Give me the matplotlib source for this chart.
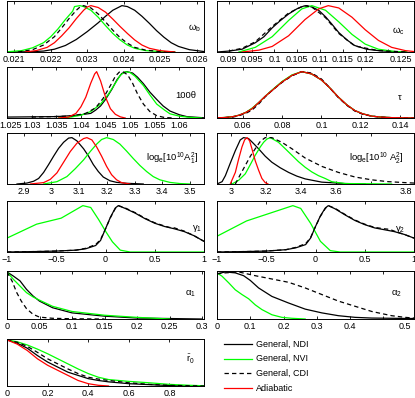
import numpy as np
import matplotlib
matplotlib.use("Agg")
import matplotlib.pyplot as plt
import matplotlib.transforms as mtransforms

plt.rcParams['font.family'] = ['Liberation Sans', 'DejaVu Sans']
plt.rcParams['mathtext.default'] = 'regular'

GREEN = '#00ff00'
RED = '#ff0000'

# ---------------- omega_b ----------------
wb_ndi_x = [0.0208, 0.0214, 0.0218, 0.0221, 0.0224, 0.0227, 0.0230, 0.0233, 0.0235, 0.0237, 0.0239,
            0.02395, 0.0241, 0.0243, 0.0245, 0.0247, 0.0249, 0.0251, 0.0253, 0.0255, 0.0258, 0.0262]
wb_ndi_y = [0.0, 0.005, 0.02, 0.06, 0.14, 0.27, 0.44, 0.63, 0.77, 0.9, 0.98,
            1.0, 0.98, 0.9, 0.77, 0.62, 0.46, 0.32, 0.2, 0.12, 0.05, 0.01]
wb_nvi_x = [0.0208, 0.0212, 0.0215, 0.0218, 0.0220, 0.0222, 0.0224, 0.0226, 0.02265, 0.0228, 0.0229,
            0.0231, 0.0233, 0.0235, 0.0237, 0.0239, 0.0241, 0.0243, 0.0246, 0.0250, 0.0254]
wb_nvi_y = [0.005, 0.03, 0.09, 0.2, 0.33, 0.5, 0.7, 0.88, 0.98, 1.0, 0.98,
            0.9, 0.75, 0.57, 0.4, 0.26, 0.15, 0.08, 0.03, 0.01, 0.0]
wb_cdi_x = [0.0211, 0.0215, 0.0218, 0.0221, 0.0223, 0.0225, 0.0227, 0.0228, 0.0229, 0.0231, 0.0233,
            0.0235, 0.0237, 0.0239, 0.0241, 0.0243, 0.0246, 0.0250, 0.0254]
wb_cdi_y = [0.0, 0.05, 0.15, 0.33, 0.52, 0.72, 0.9, 0.97, 1.0, 0.95, 0.82,
            0.65, 0.47, 0.31, 0.19, 0.1, 0.04, 0.01, 0.0]
wb_ad_x = [0.0213, 0.0216, 0.0219, 0.0221, 0.0223, 0.0225, 0.0227, 0.0229, 0.0230, 0.0231, 0.0233,
           0.0235, 0.0237, 0.0239, 0.0241, 0.0243, 0.0245, 0.0247, 0.0250, 0.0254]
wb_ad_y = [0.0, 0.03, 0.1, 0.2, 0.35, 0.52, 0.72, 0.9, 0.97, 1.0, 0.96,
           0.86, 0.71, 0.55, 0.4, 0.26, 0.15, 0.08, 0.03, 0.0]

# ---------------- omega_c ----------------
wc_ndi_x = [0.0874, 0.0900, 0.0929, 0.0958, 0.0977, 0.0995, 0.1012, 0.1031, 0.1049, 0.1064, 0.1071,
            0.1082, 0.1097, 0.1112, 0.1126, 0.1141, 0.1159, 0.1176, 0.1202, 0.1228, 0.1257, 0.1290]
wc_ndi_y = [0.0, 0.02, 0.06, 0.2, 0.33, 0.52, 0.67, 0.82, 0.93, 0.99, 1.0,
            0.97, 0.9, 0.76, 0.6, 0.42, 0.26, 0.14, 0.06, 0.03, 0.01, 0.0]
wc_nvi_x = [0.0922, 0.0958, 0.0995, 0.1031, 0.1060, 0.1082, 0.1112, 0.1141, 0.1170, 0.1199, 0.1228,
            0.1265, 0.1290]
wc_nvi_y = [0.0, 0.1, 0.33, 0.68, 0.93, 1.0, 0.9, 0.65, 0.38, 0.17, 0.06, 0.01, 0.0]
wc_cdi_x = [0.0900, 0.0929, 0.0958, 0.0995, 0.1031, 0.1064, 0.1082, 0.1112, 0.1141, 0.1176, 0.1228,
            0.1290]
wc_cdi_y = [0.02, 0.08, 0.22, 0.55, 0.84, 1.0, 0.97, 0.74, 0.4, 0.13, 0.03, 0.0]
wc_ad_x = [0.0929, 0.0966, 0.0995, 0.1031, 0.1067, 0.1097, 0.1118, 0.1141, 0.1170, 0.1199, 0.1228,
           0.1257, 0.1287, 0.1306]
wc_ad_y = [0.0, 0.04, 0.12, 0.35, 0.7, 0.93, 1.0, 0.95, 0.75, 0.48, 0.25, 0.1, 0.03, 0.01]

# ---------------- 100 theta ----------------
th_ndi_x = [1.025, 1.030, 1.035, 1.038, 1.040, 1.042, 1.043, 1.044, 1.045, 1.0463, 1.0473, 1.0483,
            1.0493, 1.0505, 1.0515, 1.0527, 1.0540, 1.0554, 1.0567, 1.0581, 1.0600, 1.0615, 1.0649]
th_ndi_y = [0.02, 0.025, 0.03, 0.05, 0.07, 0.1, 0.17, 0.26, 0.4, 0.62, 0.82, 0.96,
            1.0, 0.97, 0.88, 0.74, 0.56, 0.4, 0.26, 0.15, 0.07, 0.03, 0.005]
th_nvi_x = [1.0355, 1.038, 1.040, 1.042, 1.044, 1.0455, 1.047, 1.048, 1.049, 1.050, 1.051, 1.0527,
            1.054, 1.0554, 1.057, 1.0581, 1.060, 1.062, 1.0645]
th_nvi_y = [0.0, 0.02, 0.06, 0.14, 0.3, 0.5, 0.75, 0.92, 1.0, 0.98, 0.9, 0.7,
            0.5, 0.3, 0.17, 0.09, 0.04, 0.015, 0.0]
th_cdi_x = [1.030, 1.038, 1.041, 1.043, 1.0445, 1.046, 1.047, 1.0478, 1.0485, 1.0495, 1.0505, 1.0515,
            1.0527, 1.054, 1.0554, 1.057, 1.059]
th_cdi_y = [0.02, 0.04, 0.1, 0.22, 0.42, 0.7, 0.9, 0.99, 1.0, 0.93, 0.75, 0.52,
            0.3, 0.14, 0.05, 0.01, 0.0]
th_ad_x = [1.0355, 1.0375, 1.039, 1.040, 1.041, 1.042, 1.0428, 1.0432, 1.044, 1.045, 1.046, 1.047,
           1.048, 1.049]
th_ad_y = [0.0, 0.02, 0.1, 0.24, 0.45, 0.75, 0.95, 1.0, 0.8, 0.45, 0.2, 0.08, 0.025, 0.0]

# ---------------- tau ----------------
tau_x = [0.0468, 0.051, 0.055, 0.058, 0.0615, 0.0646, 0.068, 0.0714, 0.075, 0.080, 0.085, 0.090,
         0.095, 0.100, 0.104, 0.1086, 0.113, 0.117, 0.121, 0.1256, 0.130, 0.1358, 0.1471]
tau_ndi_y = [0.003, 0.01, 0.03, 0.06, 0.12, 0.2, 0.33, 0.47, 0.6, 0.78, 0.92, 1.0,
             0.95, 0.82, 0.66, 0.45, 0.28, 0.16, 0.09, 0.04, 0.02, 0.008, 0.0]
tau_nvi_y = [0.004, 0.012, 0.03, 0.06, 0.12, 0.21, 0.33, 0.47, 0.61, 0.79, 0.93, 1.0,
             0.95, 0.82, 0.66, 0.45, 0.28, 0.16, 0.09, 0.04, 0.02, 0.008, 0.0]
tau_cdi_y = [0.003, 0.01, 0.02, 0.05, 0.1, 0.17, 0.3, 0.46, 0.6, 0.77, 0.91, 1.0,
             0.97, 0.84, 0.66, 0.44, 0.27, 0.15, 0.08, 0.04, 0.02, 0.006, 0.0]
tau_ad_y = [0.004, 0.011, 0.03, 0.06, 0.12, 0.2, 0.33, 0.47, 0.6, 0.78, 0.92, 1.0,
            0.95, 0.82, 0.66, 0.45, 0.28, 0.16, 0.09, 0.04, 0.02, 0.008, 0.001]

# ---------------- log A1 ----------------
a1_ndi_x = [2.876, 2.912, 2.936, 2.954, 2.972, 2.990, 3.008, 3.026, 3.044, 3.062, 3.074, 3.092,
            3.116, 3.134, 3.151, 3.169, 3.187, 3.211, 3.235, 3.271, 3.331]
a1_ndi_y = [0.0, 0.02, 0.06, 0.12, 0.25, 0.42, 0.6, 0.77, 0.9, 0.99, 1.0, 0.93,
            0.76, 0.6, 0.42, 0.27, 0.15, 0.07, 0.035, 0.015, 0.0]
a1_nvi_x = [2.972, 3.020, 3.056, 3.086, 3.116, 3.140, 3.163, 3.181, 3.199, 3.223, 3.247, 3.271,
            3.295, 3.319, 3.343, 3.367, 3.391, 3.427, 3.463, 3.499]
a1_nvi_y = [0.0, 0.05, 0.16, 0.33, 0.52, 0.7, 0.86, 0.96, 1.0, 0.96, 0.86, 0.71,
            0.55, 0.4, 0.27, 0.16, 0.09, 0.035, 0.01, 0.0]
a1_ad_x = [2.924, 2.972, 2.996, 3.020, 3.044, 3.068, 3.092, 3.116, 3.128, 3.146, 3.163, 3.181,
           3.199, 3.217, 3.235, 3.253, 3.283]
a1_ad_y = [0.0, 0.03, 0.1, 0.24, 0.47, 0.7, 0.88, 0.98, 1.0, 0.95, 0.8, 0.6,
           0.38, 0.2, 0.09, 0.03, 0.0]

# ---------------- log A2 ----------------
a2_ndi_x = [2.918, 2.947, 2.966, 2.994, 3.023, 3.051, 3.070, 3.099, 3.128, 3.156, 3.194, 3.232,
            3.280, 3.328, 3.375, 3.423, 3.518, 3.651, 3.766]
a2_ndi_y = [0.0, 0.05, 0.18, 0.45, 0.72, 0.95, 1.0, 0.98, 0.87, 0.76, 0.6, 0.47,
            0.35, 0.25, 0.17, 0.11, 0.04, 0.01, 0.0]
a2_nvi_x = [3.004, 3.042, 3.080, 3.109, 3.137, 3.166, 3.185, 3.204, 3.223, 3.270, 3.309, 3.347,
            3.385, 3.423, 3.461, 3.499, 3.537, 3.575, 3.651, 3.918]
a2_nvi_y = [0.0, 0.08, 0.22, 0.42, 0.62, 0.8, 0.9, 0.97, 1.0, 0.9, 0.76, 0.62,
            0.48, 0.36, 0.26, 0.18, 0.12, 0.05, 0.01, 0.0]
a2_cdi_x = [3.023, 3.051, 3.080, 3.109, 3.137, 3.166, 3.194, 3.232, 3.289, 3.347, 3.423, 3.518,
            3.613, 3.709, 3.804, 3.899, 3.994, 4.046]
a2_cdi_y = [0.0, 0.2, 0.4, 0.6, 0.76, 0.92, 1.0, 1.0, 0.9, 0.76, 0.56, 0.38,
            0.25, 0.15, 0.09, 0.05, 0.03, 0.02]
a2_ad_x = [2.994, 3.023, 3.042, 3.061, 3.076, 3.090, 3.105, 3.118, 3.137, 3.156, 3.175, 3.194, 3.210]
a2_ad_y = [0.0, 0.25, 0.54, 0.8, 0.95, 1.0, 0.93, 0.76, 0.5, 0.3, 0.12, 0.03, 0.0]

# ---------------- gamma1 ----------------
g1_ndi_x = [-1.0, -0.7, -0.5, -0.3, -0.2, -0.1, -0.05, 0.0, 0.05, 0.1, 0.13, 0.2,
            0.3, 0.4, 0.5, 0.6, 0.7, 0.8, 0.9, 1.0]
g1_ndi_y = [0.0, 0.01, 0.02, 0.04, 0.07, 0.14, 0.25, 0.5, 0.75, 0.95, 1.0, 0.94,
            0.84, 0.72, 0.62, 0.55, 0.5, 0.44, 0.35, 0.23]
g1_cdi_x = [-1.0, -0.7, -0.5, -0.3, -0.2, -0.1, -0.05, 0.0, 0.05, 0.1, 0.13, 0.2,
            0.3, 0.4, 0.5, 0.6, 0.65, 0.7, 0.8, 0.9, 1.0]
g1_cdi_y = [0.0, 0.01, 0.02, 0.04, 0.08, 0.16, 0.27, 0.5, 0.74, 0.94, 1.0, 0.95,
            0.85, 0.73, 0.63, 0.56, 0.53, 0.52, 0.45, 0.35, 0.23]
g1_nvi_x = [-1.0, -0.7, -0.45, -0.23, -0.15, -0.07, 0.0, 0.07, 0.15, 0.25, 1.0]
g1_nvi_y = [0.3, 0.6, 0.73, 1.0, 0.96, 0.7, 0.45, 0.22, 0.04, 0.0, 0.0]

# ---------------- gamma2 ----------------
g2_ndi_x = [-1.0, -0.7, -0.5, -0.3, -0.2, -0.1, -0.05, 0.0, 0.05, 0.1, 0.13, 0.2,
            0.3, 0.4, 0.5, 0.6, 0.7, 0.8, 0.9, 1.0]
g2_ndi_y = [0.0, 0.01, 0.02, 0.05, 0.09, 0.16, 0.3, 0.55, 0.78, 0.95, 1.0, 0.93,
            0.8, 0.68, 0.59, 0.52, 0.48, 0.44, 0.38, 0.3]
g2_cdi_x = [-1.0, -0.7, -0.5, -0.3, -0.2, -0.1, -0.05, 0.0, 0.05, 0.1, 0.13, 0.2,
            0.3, 0.4, 0.5, 0.6, 0.7, 0.75, 0.8, 0.9, 1.0]
g2_cdi_y = [0.0, 0.01, 0.02, 0.05, 0.1, 0.18, 0.31, 0.55, 0.77, 0.94, 1.0, 0.94,
            0.81, 0.69, 0.6, 0.53, 0.5, 0.49, 0.45, 0.38, 0.3]
g2_nvi_x = [-1.0, -0.7, -0.23, -0.15, -0.05, 0.05, 0.15, 0.25, 1.0]
g2_nvi_y = [0.34, 0.67, 1.0, 0.94, 0.62, 0.23, 0.03, 0.0, 0.0]

# ---------------- alpha1 ----------------
al1_ndi_x = [0.0, 0.01, 0.02, 0.03, 0.04, 0.05, 0.07, 0.1, 0.15, 0.2, 0.25, 0.3]
al1_ndi_y = [1.0, 0.91, 0.81, 0.63, 0.49, 0.38, 0.24, 0.13, 0.06, 0.02, 0.01, 0.0]
al1_nvi_x = [0.0, 0.01, 0.02, 0.03, 0.04, 0.05, 0.07, 0.1, 0.15, 0.2, 0.25]
al1_nvi_y = [1.0, 0.84, 0.7, 0.56, 0.47, 0.4, 0.27, 0.16, 0.08, 0.035, 0.0]
al1_cdi_x = [0.0, 0.008, 0.015, 0.022, 0.03, 0.04, 0.05, 0.07, 0.1, 0.15]
al1_cdi_y = [1.0, 0.8, 0.56, 0.38, 0.22, 0.1, 0.04, 0.015, 0.005, 0.0]

# ---------------- alpha2 ----------------
al2_ndi_x = [0.0, 0.025, 0.055, 0.08, 0.1, 0.125, 0.165, 0.215, 0.265, 0.315, 0.365, 0.415,
             0.465, 0.525, 0.592]
al2_ndi_y = [0.96, 1.0, 0.98, 0.92, 0.82, 0.66, 0.48, 0.34, 0.21, 0.13, 0.07, 0.035,
             0.02, 0.015, 0.01]
al2_cdi_x = [0.0, 0.025, 0.065, 0.115, 0.165, 0.215, 0.265, 0.315, 0.365, 0.415, 0.465, 0.525,
             0.565, 0.592]
al2_cdi_y = [0.96, 0.98, 1.0, 0.92, 0.85, 0.78, 0.66, 0.52, 0.38, 0.27, 0.16, 0.07,
             0.035, 0.02]
al2_nvi_x = [0.0, 0.015, 0.035, 0.055, 0.075, 0.095, 0.115, 0.135, 0.165, 0.195, 0.225, 0.265]
al2_nvi_y = [0.98, 0.91, 0.77, 0.62, 0.52, 0.43, 0.3, 0.2, 0.09, 0.035, 0.015, 0.0]

# ---------------- r0 ----------------
r0_x = [0.0, 0.05, 0.1, 0.15, 0.2, 0.25, 0.3, 0.35, 0.4, 0.45, 0.5, 0.6, 0.7, 0.8, 0.9, 0.97]
r0_ndi_y = [1.0, 0.93, 0.82, 0.66, 0.52, 0.41, 0.3, 0.23, 0.16, 0.12, 0.09, 0.05, 0.03, 0.01, 0.0, 0.0]
r0_nvi_y = [1.0, 0.96, 0.89, 0.8, 0.7, 0.59, 0.48, 0.37, 0.27, 0.19, 0.14, 0.1, 0.07, 0.035, 0.015, 0.005]
r0_cdi_y = [1.0, 0.95, 0.86, 0.73, 0.59, 0.48, 0.37, 0.27, 0.19, 0.15, 0.12, 0.07, 0.035, 0.015, 0.005, 0.0]
r0_ad_x = [0.0, 0.05, 0.1, 0.15, 0.2, 0.25, 0.3, 0.35, 0.4, 0.45, 0.5]
r0_ad_y = [1.0, 0.91, 0.77, 0.59, 0.45, 0.34, 0.23, 0.12, 0.05, 0.015, 0.0]

W, H = 415, 398
fig = plt.figure(figsize=(W / 100, H / 100), dpi=100)

cols = [(7, 204), (217, 414)]
rows = [(1, 52), (67, 118), (133, 184), (201, 252), (271, 319), (339, 386)]


def make_ax(r, c):
    x0, x1 = cols[c]
    y0, y1 = rows[r]
    ax = fig.add_axes([x0 / W, 1 - y1 / H, (x1 - x0) / W, (y1 - y0) / H])
    ax.tick_params(axis='x', direction='in', top=True, length=2.2, width=0.6,
                   labelsize=6.5, pad=2)
    ax.set_yticks([])
    for s in ax.spines.values():
        s.set_linewidth(0.7)
    return ax


def curves(ax, ndi=None, nvi=None, cdi=None, ad=None):
    lw = 0.9
    if ndi is not None:
        ax.plot(ndi[0], ndi[1], color='k', lw=lw)
    if nvi is not None:
        ax.plot(nvi[0], nvi[1], color=GREEN, lw=lw)
    if cdi is not None:
        ax.plot(cdi[0], cdi[1], color='k', lw=lw, dashes=(3.5, 2.5))
    if ad is not None:
        ax.plot(ad[0], ad[1], color=RED, lw=lw)


def label(ax, txt, x, y):
    ax.text(x, y, txt, transform=ax.transAxes, ha='center', va='center', fontsize=6.8)


def shift_label(ax, idx, px):
    # nudge one tick label sideways (as printed in the reference)
    lab = ax.get_xticklabels()[idx]
    lab.set_transform(lab.get_transform() +
                      mtransforms.ScaledTranslation(px / 100, 0, fig.dpi_scale_trans))


ax = make_ax(0, 0)
curves(ax, (wb_ndi_x, wb_ndi_y), (wb_nvi_x, wb_nvi_y), (wb_cdi_x, wb_cdi_y), (wb_ad_x, wb_ad_y))
ax.set_xlim(0.0208, 0.0262); ax.set_ylim(0, 1.1)
ax.set_xticks([0.021, 0.022, 0.023, 0.024, 0.025, 0.026])
ax.set_xticklabels(['0.021', '0.022', '0.023', '0.024', '0.025', '0.026'])
label(ax, 'ω$_b$', 0.95, 0.47)

ax = make_ax(0, 1)
curves(ax, (wc_ndi_x, wc_ndi_y), (wc_nvi_x, wc_nvi_y), (wc_cdi_x, wc_cdi_y), (wc_ad_x, wc_ad_y))
ax.set_xlim(0.0874, 0.1306); ax.set_ylim(0, 1.1)
ax.set_xticks([0.09, 0.095, 0.1, 0.105, 0.11, 0.115, 0.12, 0.125])
ax.set_xticklabels(['0.09', '0.095', '0.1', '0.105', '0.11', '0.115', '0.12', '0.125'])
shift_label(ax, -1, 12)
label(ax, 'ω$_c$', 0.92, 0.4)

ax = make_ax(1, 0)
curves(ax, (th_ndi_x, th_ndi_y), (th_nvi_x, th_nvi_y), (th_cdi_x, th_cdi_y), (th_ad_x, th_ad_y))
ax.set_xlim(1.025, 1.065); ax.set_ylim(0, 1.1)
ax.set_xticks([1.025, 1.03, 1.035, 1.04, 1.045, 1.05, 1.055, 1.06])
ax.set_xticklabels(['1.025', '1.03', '1.035', '1.04', '1.045', '1.05', '1.055', '1.06'])
shift_label(ax, 0, 4)
label(ax, '100θ', 0.91, 0.45)

ax = make_ax(1, 1)
curves(ax, (tau_x, tau_ndi_y), (tau_x, tau_nvi_y), (tau_x, tau_cdi_y), (tau_x, tau_ad_y))
ax.set_xlim(0.0468, 0.1471); ax.set_ylim(0, 1.1)
ax.set_xticks([0.06, 0.08, 0.1, 0.12, 0.14])
ax.set_xticklabels(['0.06', '0.08', '0.1', '0.12', '0.14'])
label(ax, 'τ', 0.93, 0.41)

ax = make_ax(2, 0)
curves(ax, (a1_ndi_x, a1_ndi_y), (a1_nvi_x, a1_nvi_y), None, (a1_ad_x, a1_ad_y))
ax.set_xlim(2.84, 3.55); ax.set_ylim(0, 1.1)
ax.set_xticks([2.9, 3.0, 3.1, 3.2, 3.3, 3.4, 3.5])
ax.set_xticklabels(['2.9', '3', '3.1', '3.2', '3.3', '3.4', '3.5'])
label(ax, 'log$_e$[10$^{10}$A$_1^2$]', 0.84, 0.5)

ax = make_ax(2, 1)
curves(ax, (a2_ndi_x, a2_ndi_y), (a2_nvi_x, a2_nvi_y), (a2_cdi_x, a2_cdi_y), (a2_ad_x, a2_ad_y))
ax.set_xlim(2.918, 4.046); ax.set_ylim(0, 1.1)
ax.set_xticks([3.0, 3.2, 3.4, 3.6, 3.8])
ax.set_xticklabels(['3', '3.2', '3.4', '3.6', '3.8'])
shift_label(ax, -1, 35)
label(ax, 'log$_e$[10$^{10}$ A$_2^2$]', 0.81, 0.5)

ax = make_ax(3, 0)
curves(ax, (g1_ndi_x, g1_ndi_y), (g1_nvi_x, g1_nvi_y), (g1_cdi_x, g1_cdi_y))
ax.set_xlim(-1, 1); ax.set_ylim(0, 1.1)
ax.set_xticks([-1, -0.5, 0, 0.5, 1])
ax.set_xticklabels(['−1', '−0.5', '0', '0.5', '1'])
label(ax, 'γ$_1$', 0.965, 0.47)

ax = make_ax(3, 1)
curves(ax, (g2_ndi_x, g2_ndi_y), (g2_nvi_x, g2_nvi_y), (g2_cdi_x, g2_cdi_y))
ax.set_xlim(-1, 1); ax.set_ylim(0, 1.1)
ax.set_xticks([-1, -0.5, 0, 0.5, 1])
ax.set_xticklabels(['−1', '−0.5', '0', '0.5', '1'])
label(ax, 'γ$_2$', 0.93, 0.45)

ax = make_ax(4, 0)
curves(ax, (al1_ndi_x, al1_ndi_y), (al1_nvi_x, al1_nvi_y), (al1_cdi_x, al1_cdi_y))
ax.set_xlim(0, 0.303); ax.set_ylim(0, 1.02)
ax.set_xticks([0, 0.05, 0.1, 0.15, 0.2, 0.25, 0.3])
ax.set_xticklabels(['0', '0.05', '0.1', '0.15', '0.2', '0.25', '0.3'])
label(ax, 'α$_1$', 0.93, 0.52)

ax = make_ax(4, 1)
curves(ax, (al2_ndi_x, al2_ndi_y), (al2_nvi_x, al2_nvi_y), (al2_cdi_x, al2_cdi_y))
ax.set_xlim(0, 0.592); ax.set_ylim(0, 1.02)
ax.set_xticks([0, 0.1, 0.2, 0.3, 0.4, 0.5])
ax.set_xticklabels(['0', '0.1', '0.2', '0.3', '0.4', '0.5'])
shift_label(ax, -1, 21)
label(ax, 'α$_2$', 0.91, 0.52)

ax = make_ax(5, 0)
curves(ax, (r0_x, r0_ndi_y), (r0_x, r0_nvi_y), (r0_x, r0_cdi_y), (r0_ad_x, r0_ad_y))
ax.set_xlim(0, 0.97); ax.set_ylim(0, 1.02)
ax.set_xticks([0, 0.2, 0.4, 0.6, 0.8])
ax.set_xticklabels(['0', '0.2', '0.4', '0.6', '0.8'])
label(ax, r'$\bar{r}_0$', 0.93, 0.57)

# legend panel
lax = fig.add_axes([217 / W, 1 - 392 / H, 197 / W, 56 / H])
lax.axis('off')
lax.set_xlim(217, 414); lax.set_ylim(392, 336)
names = ['General, NDI', 'General, NVI', 'General, CDI', 'Adiabatic']
styles = [dict(color='k'), dict(color=GREEN), dict(color='k', dashes=(3.5, 2.5)), dict(color=RED)]
for i, (nm, st) in enumerate(zip(names, styles)):
    yy = 344 + i * 14.7
    lax.plot([224, 252], [yy, yy], lw=0.9, **st)
    lax.text(256, yy, nm, fontsize=6.5, va='center', ha='left')

fig.savefig('out.png', dpi=100)
